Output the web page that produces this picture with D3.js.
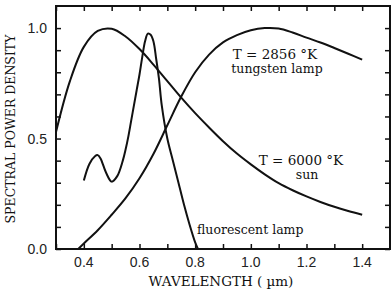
<!DOCTYPE html>
<html lang="en">
	<head>
		<meta charset="utf-8">
		<title>spectral power density</title>
		<style>
			body {
				margin: 0;
				background-color: #fff;
			}
			path.line {
				fill: none;
				stroke: #111;
				stroke-width: 2px;
			}
			.frame {
				fill: none;
				stroke: #111;
				stroke-width: 2px;
			}
			.tick line {
				stroke: #111;
				stroke-width: 1.5px;
			}
			.ticklabel {
				font-family: "Liberation Sans", Arial, sans-serif;
				font-size: 14px;
				fill: #222;
			}
			.note, .title {
				font-family: "DejaVu Serif", serif;
				fill: #111;
			}
		</style>
	</head>
	<body>
		<script src="https://cdnjs.cloudflare.com/ajax/libs/d3/7.8.5/d3.min.js"></script>
		<script>

			// values (wavelength in µm, relative density)
			var sunX = [0.30, 0.35, 0.40, 0.45, 0.50, 0.55, 0.60, 0.65, 0.70, 0.75, 0.80, 0.85, 0.90, 0.95, 1.00, 1.05, 1.10, 1.15, 1.20, 1.25, 1.30, 1.35, 1.40];
			var sunY = [0.53, 0.76, 0.915, 0.987, 0.997, 0.962, 0.905, 0.835, 0.76, 0.685, 0.615, 0.55, 0.488, 0.432, 0.383, 0.338, 0.298, 0.266, 0.238, 0.213, 0.191, 0.172, 0.155];

			var tungX = [0.38, 0.40, 0.45, 0.50, 0.55, 0.60, 0.65, 0.70, 0.75, 0.80, 0.85, 0.90, 0.95, 1.00, 1.05, 1.10, 1.15, 1.20, 1.25, 1.30, 1.35, 1.40];
			var tungY = [0.0, 0.025, 0.085, 0.155, 0.23, 0.32, 0.43, 0.56, 0.69, 0.80, 0.88, 0.935, 0.968, 0.99, 1.0, 0.998, 0.98, 0.957, 0.935, 0.91, 0.884, 0.857];

			var fluorX = [0.40, 0.42, 0.44, 0.45, 0.46, 0.48, 0.50, 0.52, 0.54, 0.55, 0.56, 0.57, 0.58, 0.59, 0.60, 0.61, 0.62, 0.63, 0.64, 0.65, 0.66, 0.67, 0.68, 0.70, 0.72, 0.74, 0.76, 0.78, 0.80, 0.81];
			var fluorY = [0.31, 0.385, 0.42, 0.425, 0.41, 0.345, 0.305, 0.33, 0.40, 0.45, 0.51, 0.58, 0.65, 0.72, 0.79, 0.87, 0.94, 0.975, 0.97, 0.94, 0.86, 0.77, 0.65, 0.50, 0.40, 0.30, 0.20, 0.11, 0.03, 0.0];

			var xTicks = [0.4, 0.6, 0.8, 1.0, 1.2, 1.4];
			var yTicks = [0.0, 0.5, 1.0];

			var fullwidth = 392;
			var fullheight = 291;

			var xScale = d3.scaleLinear().domain([0.3, 1.5]).range([56, 390]);
			var yScale = d3.scaleLinear().domain([0, 1.1]).range([249, 6]);

			var svg = d3.select("body")
						.append("svg")
						.attr("width", fullwidth)
						.attr("height", fullheight);

			function zipUp(xs, ys) {
				return xs.map(function(x, i) { return { w: x, v: ys[i] }; });
			}

			var line = d3.line()
				.curve(d3.curveCatmullRom)
				.x(function(d) { return xScale(d.w); })
				.y(function(d) { return yScale(d.v); });

			// minor ticks every 0.1, all four sides, pointing inward
			var xMinor = d3.range(3, 15).map(function(i) { return i / 10; });
			var yMinor = d3.range(0, 11).map(function(i) { return i / 10; });
			var tickLen = 5;

			svg.append("g")
				.attr("class", "tick")
				.attr("transform", "translate(0," + yScale(0) + ")")
				.call(d3.axisBottom(xScale).tickValues(xMinor).tickSize(-tickLen).tickFormat(""))
				.call(function(g) { g.select(".domain").remove(); });

			svg.append("g")
				.attr("class", "tick")
				.attr("transform", "translate(0," + yScale(1.1) + ")")
				.call(d3.axisTop(xScale).tickValues(xMinor).tickSize(-tickLen).tickFormat(""))
				.call(function(g) { g.select(".domain").remove(); });

			svg.append("g")
				.attr("class", "tick")
				.attr("transform", "translate(" + xScale(0.3) + ",0)")
				.call(d3.axisLeft(yScale).tickValues(yMinor).tickSize(-tickLen).tickFormat(""))
				.call(function(g) { g.select(".domain").remove(); });

			svg.append("g")
				.attr("class", "tick")
				.attr("transform", "translate(" + xScale(1.5) + ",0)")
				.call(d3.axisRight(yScale).tickValues(yMinor).tickSize(-tickLen).tickFormat(""))
				.call(function(g) { g.select(".domain").remove(); });

			svg.selectAll(".tick line").attr("stroke", "#111").attr("stroke-width", 1.5);

			// frame
			svg.append("rect")
				.attr("class", "frame")
				.attr("x", xScale(0.3))
				.attr("y", yScale(1.1))
				.attr("width", xScale(1.5) - xScale(0.3))
				.attr("height", yScale(0) - yScale(1.1));

			// tick labels
			svg.selectAll("text.xlab")
				.data(xTicks)
				.enter()
				.append("text")
				.attr("class", "ticklabel")
				.attr("x", function(d) { return xScale(d); })
				.attr("y", yScale(0) + 18)
				.attr("text-anchor", "middle")
				.text(function(d) { return d.toFixed(1); });

			svg.selectAll("text.ylab")
				.data(yTicks)
				.enter()
				.append("text")
				.attr("class", "ticklabel")
				.attr("x", xScale(0.3) - 9)
				.attr("y", function(d) { return yScale(d) + 5; })
				.attr("text-anchor", "end")
				.text(function(d) { return d.toFixed(1); });

			// curves
			[zipUp(sunX, sunY), zipUp(tungX, tungY), zipUp(fluorX, fluorY)].forEach(function(s) {
				svg.append("path")
					.attr("class", "line")
					.attr("d", line(s));
			});

			// curve notes
			function note(txt, x, y, size) {
				svg.append("text")
					.attr("class", "note")
					.attr("x", x)
					.attr("y", y)
					.attr("text-anchor", "middle")
					.style("font-size", size + "px")
					.text(txt);
			}
			note("T = 2856 °K", 275, 59, 13.5);
			note("tungsten lamp", 277, 73, 12.5);
			note("T = 6000 °K", 301, 165, 13.5);
			note("sun", 307, 179, 12.5);
			svg.append("text")
				.attr("class", "note")
				.attr("x", 197)
				.attr("y", 234)
				.style("font-size", "12.5px")
				.text("fluorescent lamp");

			// axis titles
			svg.append("text")
				.attr("class", "title")
				.attr("x", 221)
				.attr("y", 286)
				.attr("text-anchor", "middle")
				.style("font-size", "13.5px")
				.text("WAVELENGTH ( µm)");

			svg.append("text")
				.attr("class", "title")
				.attr("transform", "translate(15,129) rotate(-90)")
				.attr("text-anchor", "middle")
				.style("font-size", "12.5px")
				.text("SPECTRAL POWER DENSITY");

		</script>
	</body>
</html>
